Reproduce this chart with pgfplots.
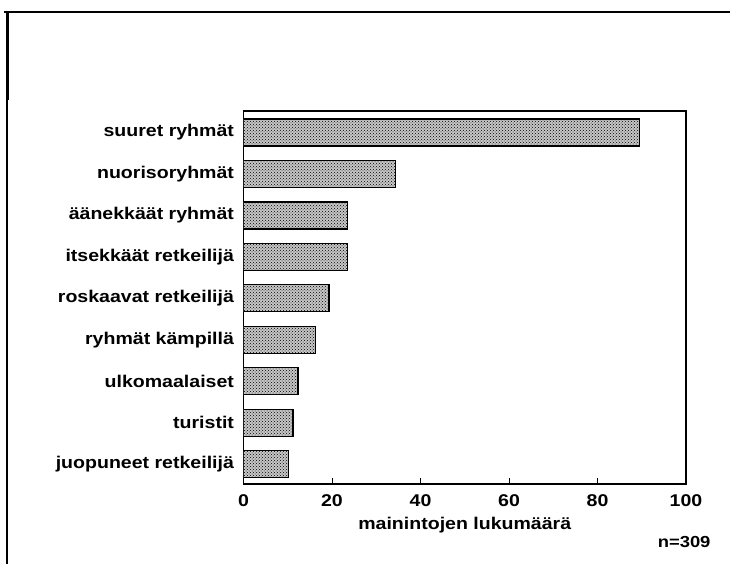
\documentclass[border=0pt]{standalone}
\usepackage{fontspec}
\setmainfont{Liberation Sans}[FakeStretch=1.15]
\usepackage{pgfplots}
\pgfplotsset{compat=1.18}
\usetikzlibrary{patterns}
\begin{document}
\begin{tikzpicture}[x=1pt,y=1pt]
\useasboundingbox (0,0) rectangle (730,564);
\draw[line width=1.8pt] (4,552) -- (730,552);
\draw[line width=3pt] (7,552) -- (7,464);
\draw[line width=1.4pt] (7,464) -- (7,0);
\begin{axis}[
  at={(243.5pt,80pt)}, anchor=south west,
  scale only axis, width=442.5pt, height=373pt,
  xbar, bar width=27pt,
  xmin=0, xmax=100, ymin=-0.48, ymax=8.52,
  xtick={0,20,...,100},
  ytick={0,...,8},
  yticklabels={juopuneet retkeilijä, turistit, ulkomaalaiset, ryhmät kämpillä, roskaavat retkeilijä, itsekkäät retkeilijä, äänekkäät ryhmät, nuorisoryhmät, suuret ryhmät},
  tick align=inside, major tick length=6pt,
  xtick pos=bottom, ytick pos=left,
  axis line style={line width=1.3pt},
  tick style={line width=1pt, black},
  /pgf/number format/assume math mode=true,
  tick label style={font=\fontsize{17}{19}\selectfont\bfseries},
  yticklabel style={xshift=-6pt},
  xticklabel style={yshift=-7pt},
  xlabel={mainintojen lukumäärä},
  xlabel style={font=\fontsize{17}{19}\selectfont\bfseries, yshift=-4pt},
]
\addplot[draw=black, line width=1.2pt, fill=black!22, postaction={pattern=crosshatch dots, pattern color=black}] coordinates {
 (10.2,0) (11.2,1) (12.3,2) (16.2,3) (19.3,4) (23.5,5) (23.5,6) (34.4,7) (89.4,8)
};
\end{axis}
\node[anchor=east, font=\fontsize{16}{18}\selectfont\bfseries] at (714,22) {n=309};
\end{tikzpicture}
\end{document}
